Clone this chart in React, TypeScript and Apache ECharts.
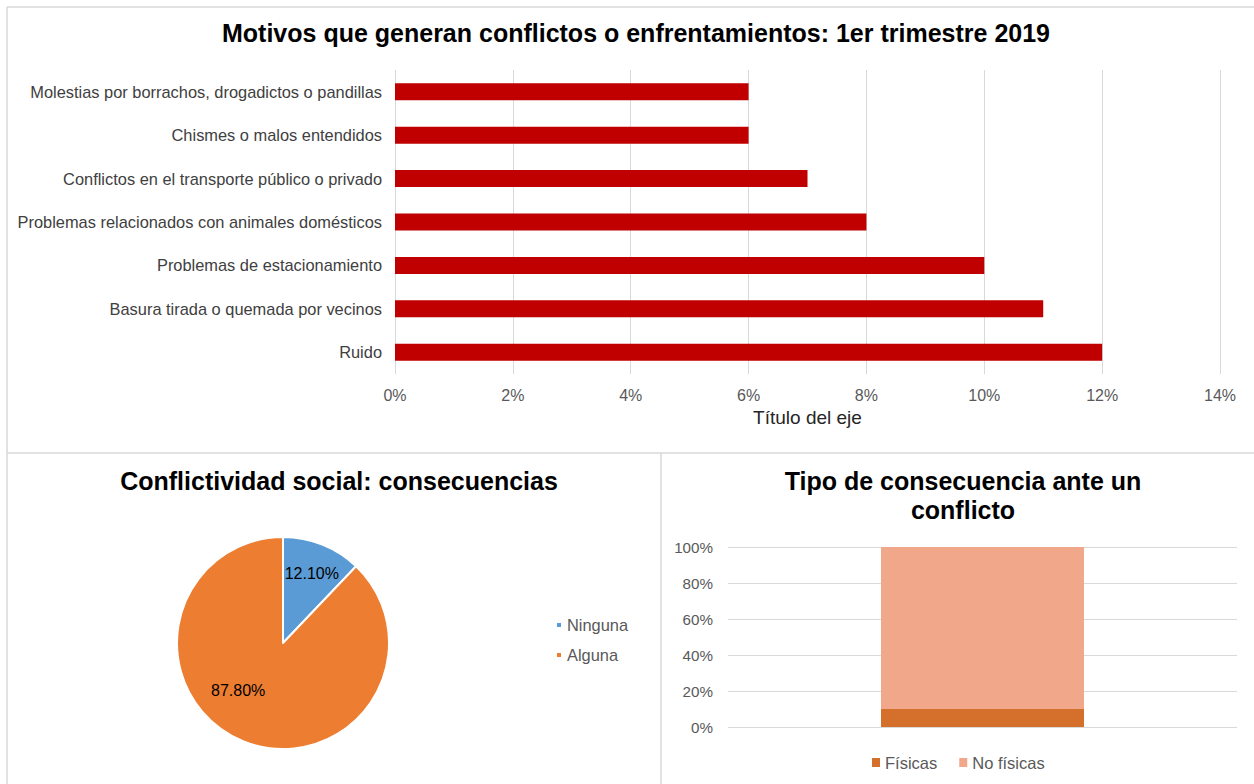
import React, { useEffect, useRef } from "react";
import * as echarts from "echarts";

const motivos = [
  "Molestias por borrachos, drogadictos o pandillas",
  "Chismes o malos entendidos",
  "Conflictos en el transporte público o privado",
  "Problemas relacionados con animales domésticos",
  "Problemas de estacionamiento",
  "Basura tirada o quemada por vecinos",
  "Ruido",
];
const motivosValues = [6, 6, 7, 8, 10, 11, 12];

const pieNames = ["Ninguna", "Alguna"];
const pieValues = [12.1, 87.8];

const tipoCategories = [""];
const fisicas = [10];
const noFisicas = [90];

const FONT = '"Liberation Sans", Arial, Helvetica, sans-serif';
const BORDER = "#D9D9D9";

export default function App() {
  const ref = useRef<HTMLDivElement>(null);
  useEffect(() => {
    if (!ref.current) return;
    const chart = echarts.init(ref.current, undefined, { renderer: "svg" });
    chart.setOption({
      animation: false,
      backgroundColor: "#ffffff",
      textStyle: { fontFamily: FONT },
      title: [
        {
          text: "Motivos que generan conflictos o enfrentamientos: 1er trimestre 2019",
          left: 631,
          top: 15,
          textAlign: "center",
          textStyle: { fontFamily: FONT, fontSize: 25, fontWeight: "bold", color: "#000" },
        },
        {
          text: "Conflictividad social: consecuencias",
          left: 334,
          top: 463,
          textAlign: "center",
          textStyle: { fontFamily: FONT, fontSize: 25, fontWeight: "bold", color: "#000" },
        },
        {
          text: "Tipo de consecuencia ante un\nconflicto",
          left: 958,
          top: 461,
          textAlign: "center",
          textStyle: {
            fontFamily: FONT,
            fontSize: 25,
            fontWeight: "bold",
            color: "#000",
            lineHeight: 29,
          },
        },
      ],
      legend: [
        {
          data: pieNames,
          orient: "vertical",
          left: 550,
          top: 612,
          itemWidth: 6,
          itemHeight: 6,
          itemGap: 14,
          icon: "rect",
          textStyle: { fontFamily: FONT, fontSize: 16.4, color: "#595959" },
        },
        {
          data: ["Físicas", "No físicas"],
          orient: "horizontal",
          left: 867,
          top: 749,
          itemWidth: 8,
          itemHeight: 9,
          itemGap: 22,
          icon: "rect",
          textStyle: { fontFamily: FONT, fontSize: 16.5, color: "#595959" },
        },
      ],
      grid: [
        { left: 395, right: 34, top: 70, height: 304 },
        { left: 728, right: 17, top: 547, height: 180 },
      ],
      xAxis: [
        {
          gridIndex: 0,
          type: "value",
          min: 0,
          max: 14,
          interval: 2,
          axisLine: { show: false },
          axisTick: { show: false },
          axisLabel: {
            formatter: "{value}%",
            fontFamily: FONT,
            fontSize: 16,
            color: "#595959",
            margin: 13,
          },
          splitLine: { lineStyle: { color: BORDER, width: 1 } },
          name: "Título del eje",
          nameLocation: "middle",
          nameGap: 34,
          nameTextStyle: { fontFamily: FONT, fontSize: 19, color: "#262626" },
        },
        {
          gridIndex: 1,
          type: "category",
          data: tipoCategories,
          axisLine: { show: false },
          axisTick: { show: false },
          axisLabel: { show: false },
        },
      ],
      yAxis: [
        {
          gridIndex: 0,
          type: "category",
          data: motivos,
          inverse: true,
          axisLine: { show: false },
          axisTick: { show: false },
          axisLabel: {
            fontFamily: FONT,
            fontSize: 16.4,
            color: "#404040",
            margin: 13,
          },
        },
        {
          gridIndex: 1,
          type: "value",
          min: 0,
          max: 100,
          interval: 20,
          axisLine: { show: false },
          axisTick: { show: false },
          axisLabel: {
            formatter: "{value}%",
            fontFamily: FONT,
            fontSize: 15.2,
            color: "#595959",
            margin: 15,
          },
          splitLine: { lineStyle: { color: BORDER, width: 1 } },
        },
      ],
      series: [
        {
          type: "bar",
          name: "Motivos",
          xAxisIndex: 0,
          yAxisIndex: 0,
          data: motivosValues,
          barWidth: 17,
          itemStyle: { color: "#C00000" },
        },
        {
          type: "pie",
          name: "Consecuencias",
          center: [283, 643],
          radius: 106,
          startAngle: 90,
          clockwise: true,
          data: pieNames.map((n, i) => ({ name: n, value: pieValues[i] })),
          color: ["#5B9BD5", "#ED7D31"],
          itemStyle: { borderColor: "#ffffff", borderWidth: 2 },
          label: {
            show: true,
            position: "inside",
            formatter: (p: any) => Number(p.value).toFixed(2) + "%",
            fontFamily: FONT,
            fontSize: 16,
            color: "#000",
          },
          labelLine: { show: false },
          labelLayout: (p: any) =>
            p.dataIndex === 0 ? { dx: 8, dy: -18 } : { dx: -24, dy: -4 },
        },
        {
          type: "bar",
          name: "Físicas",
          xAxisIndex: 1,
          yAxisIndex: 1,
          stack: "tipo",
          data: fisicas,
          barWidth: 203,
          itemStyle: { color: "#D46F2C" },
        },
        {
          type: "bar",
          name: "No físicas",
          xAxisIndex: 1,
          yAxisIndex: 1,
          stack: "tipo",
          data: noFisicas,
          barWidth: 203,
          itemStyle: { color: "#F1A88A" },
        },
      ],
      graphic: [
        { type: "line", shape: { x1: 7, y1: 7, x2: 1254, y2: 7 }, style: { stroke: BORDER, lineWidth: 1.5 } },
        { type: "line", shape: { x1: 7, y1: 7, x2: 7, y2: 784 }, style: { stroke: BORDER, lineWidth: 1.5 } },
        { type: "line", shape: { x1: 7, y1: 453, x2: 1254, y2: 453 }, style: { stroke: BORDER, lineWidth: 1.5 } },
        { type: "line", shape: { x1: 661, y1: 453, x2: 661, y2: 784 }, style: { stroke: BORDER, lineWidth: 1.5 } },
      ],
    });
    return () => chart.dispose();
  }, []);
  return (
    <div
      ref={ref}
      style={{ position: "absolute", left: 0, top: 0, width: 1254, height: 784 }}
    />
  );
}
